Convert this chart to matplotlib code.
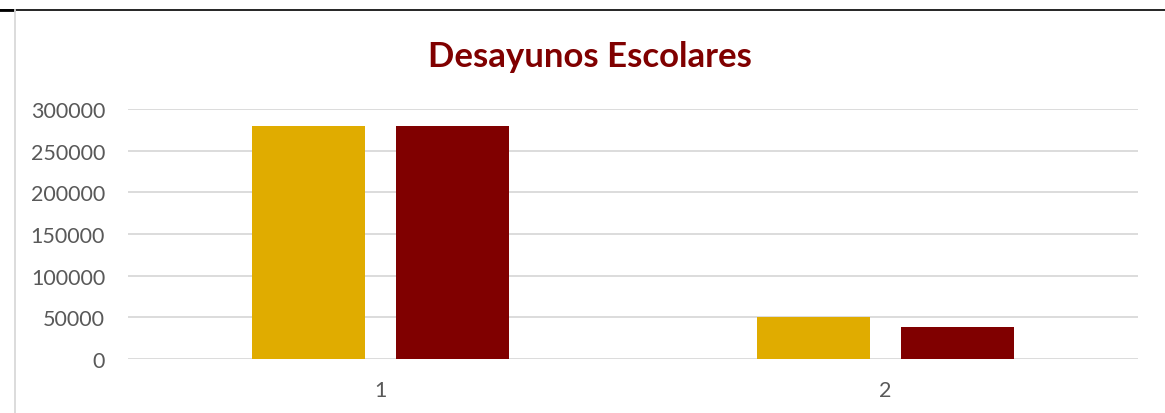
import matplotlib
matplotlib.use("Agg")
import matplotlib.pyplot as plt
from matplotlib.lines import Line2D
import numpy as np

categories = ["1", "2"]
series_a = [280000, 50000]
series_b = [280000, 39000]
yticks = [0, 50000, 100000, 150000, 200000, 250000, 300000]
title = "Desayunos Escolares"

W, H = 1165, 414
fig = plt.figure(figsize=(W / 100, H / 100), dpi=100)
ax = fig.add_axes([128 / W, (H - 360) / H, (1138 - 128) / W, 250 / H])

x = np.arange(len(categories))
bw = 0.224
off = 0.1426
ax.bar(x - off, series_a, width=bw, color="#E0AC00", zorder=3)
ax.bar(x + off, series_b, width=bw, color="#800000", zorder=3)

ax.set_xlim(-0.5, len(categories) - 0.5)
ax.set_ylim(0, 300000)
ax.set_yticks(yticks)
ax.set_yticklabels([str(v) for v in yticks])
ax.set_xticks(x)
ax.set_xticklabels(categories)
ax.grid(axis="y", color="#D9D9D9", linewidth=1.3, zorder=0)
for s in ax.spines.values():
    s.set_visible(False)
ax.tick_params(axis="both", length=0, labelsize=15.5, labelcolor="#595959")
ax.tick_params(axis="y", pad=16.5)
ax.tick_params(axis="x", pad=15)
for lab in ax.get_xticklabels() + ax.get_yticklabels():
    lab.set_fontfamily("Lato")

fig.text(590 / W, 1 - 57 / H, title, ha="center", va="center",
         fontsize=25, fontweight="bold", color="#800000", family="Lato")

fig.add_artist(Line2D([0, 1], [1 - 10.5 / H, 1 - 10.5 / H], color="black", linewidth=1.2,
                      transform=fig.transFigure))
fig.add_artist(Line2D([0, 14 / W], [1 - 11 / H, 1 - 11 / H], color="black", linewidth=2.0,
                      transform=fig.transFigure))
fig.add_artist(Line2D([14.8 / W, 14.8 / W], [0, 1 - 11 / H], color="#D9D9D9", linewidth=1.3,
                      transform=fig.transFigure))

fig.savefig("out.png", dpi=100)
